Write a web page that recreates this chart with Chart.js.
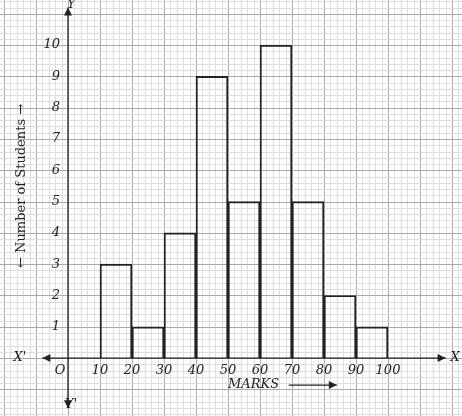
<!DOCTYPE html>
<html><head><style>html,body{margin:0;background:#fff}#c{display:block}</style>
<script src="https://cdn.jsdelivr.net/npm/chart.js@4"></script></head>
<body><div style="width:462px;height:416px"><canvas id="c"></canvas></div>
<script>
const classMids = [15, 25, 35, 45, 55, 65, 75, 85, 95];
const students = [3, 1, 4, 9, 5, 10, 5, 2, 1];
const xTicks = [10, 20, 30, 40, 50, 60, 70, 80, 90, 100];
const yTicks = [1, 2, 3, 4, 5, 6, 7, 8, 9, 10];

const handFont = "italic 13px 'DejaVu Serif'";

// graph paper, drawn over the whole canvas using the scales
const paper = {
  id: "paper",
  beforeDatasetsDraw(chart) {
    const { ctx, scales: { x, y }, width, height } = chart;
    ctx.save();
    ctx.lineWidth = 1;
    for (let v = -24; v <= 130; v += 2) {
      const px = Math.round(x.getPixelForValue(v)) + 0.5;
      if (px < 0 || px > width) continue;
      ctx.strokeStyle = v % 10 === 0 ? "#aaa" : "#dedede";
      ctx.beginPath(); ctx.moveTo(px, 0); ctx.lineTo(px, height); ctx.stroke();
    }
    for (let i = -12; i <= 60; i++) {
      const py = Math.round(y.getPixelForValue(i / 5)) + 0.5;
      if (py < 0 || py > height) continue;
      ctx.strokeStyle = i % 5 === 0 ? "#aaa" : "#dedede";
      ctx.beginPath(); ctx.moveTo(0, py); ctx.lineTo(width, py); ctx.stroke();
    }
    ctx.restore();
  }
};

const overlay = {
  id: "overlay",
  afterDraw(chart) {
    const { ctx, scales: { x, y } } = chart;
    const x0 = x.getPixelForValue(0), y0 = y.getPixelForValue(0);
    ctx.save();
    ctx.strokeStyle = "#222";
    ctx.fillStyle = "#222";
    ctx.lineWidth = 1.3;
    ctx.beginPath();
    ctx.moveTo(x.getPixelForValue(-8), y0); ctx.lineTo(x.getPixelForValue(118), y0);
    ctx.moveTo(x0, y.getPixelForValue(11.2)); ctx.lineTo(x0, y.getPixelForValue(-1.6));
    ctx.stroke();
    const arrow = (px, py, dx, dy) => {
      ctx.beginPath();
      ctx.moveTo(px, py);
      ctx.lineTo(px - dx * 8 + dy * 4, py - dy * 8 + dx * 4);
      ctx.lineTo(px - dx * 8 - dy * 4, py - dy * 8 - dx * 4);
      ctx.closePath(); ctx.fill();
    };
    arrow(x.getPixelForValue(118), y0, 1, 0);
    arrow(x.getPixelForValue(-8), y0, -1, 0);
    arrow(x0, y.getPixelForValue(11.2), 0, -1);
    arrow(x0, y.getPixelForValue(-1.6), 0, 1);
    ctx.font = handFont;
    ctx.textAlign = "center"; ctx.textBaseline = "middle";
    xTicks.forEach(v => ctx.fillText(v, x.getPixelForValue(v), y0 + 13));
    ctx.textAlign = "right";
    yTicks.forEach(v => ctx.fillText(v, x0 - 8, y.getPixelForValue(v)));
    ctx.textAlign = "center";
    ctx.fillText("O", x.getPixelForValue(-2.5), y0 + 13);
    ctx.fillText("X'", x.getPixelForValue(-15), y0);
    ctx.fillText("X", x.getPixelForValue(121), y0);
    ctx.fillText("Y", x.getPixelForValue(1), y.getPixelForValue(11.3));
    ctx.fillText("Y'", x.getPixelForValue(1), y.getPixelForValue(-1.5));
    ctx.fillText("MARKS", x.getPixelForValue(58), y0 + 27);
    ctx.beginPath();
    ctx.moveTo(x.getPixelForValue(69), y0 + 27); ctx.lineTo(x.getPixelForValue(84), y0 + 27); ctx.stroke();
    arrow(x.getPixelForValue(84), y0 + 27, 1, 0);
    ctx.translate(x.getPixelForValue(-14.5), y.getPixelForValue(5.5));
    ctx.rotate(-Math.PI / 2);
    ctx.font = "13px 'DejaVu Serif'";
    ctx.fillText("\u2190 Number of Students \u2192", 0, 0);
    ctx.restore();
  }
};

new Chart(document.getElementById("c"), {
  type: "bar",
  data: {
    datasets: [{
      data: classMids.map((m, i) => ({ x: m, y: students[i] })),
      backgroundColor: "rgba(0,0,0,0)",
      borderColor: "#222",
      borderWidth: 1.3,
      barPercentage: 1,
      categoryPercentage: 1
    }]
  },
  options: {
    responsive: true, maintainAspectRatio: false, animation: false,
    layout: { padding: { left: 4, right: 10, top: 0, bottom: 0 } },
    plugins: { legend: { display: false }, tooltip: { enabled: false } },
    scales: {
      x: { type: "linear", display: false, min: -20, max: 120, offset: false, ticks: { stepSize: 10 } },
      y: { display: false, min: -1.85, max: 11.44, ticks: { stepSize: 1 } }
    }
  },
  plugins: [paper, overlay]
});
</script></body></html>
